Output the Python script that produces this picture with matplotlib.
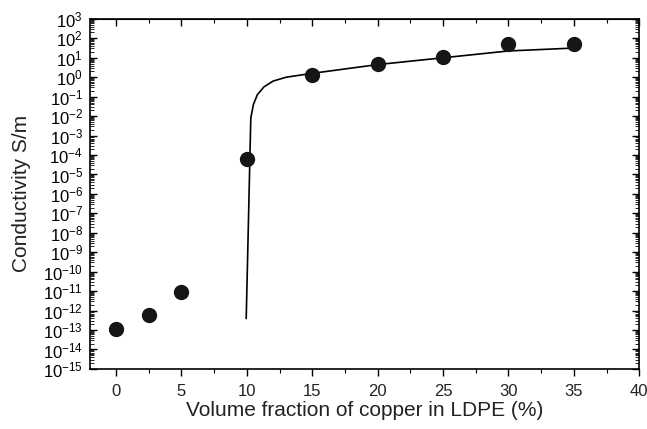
import matplotlib
matplotlib.use("Agg")
import matplotlib.pyplot as plt
import numpy as np
from matplotlib.ticker import FixedLocator, LogLocator, FuncFormatter, NullFormatter, MultipleLocator

plt.rcParams['font.family'] = ['Liberation Sans', 'DejaVu Sans']
plt.rcParams['mathtext.fontset'] = 'custom'
plt.rcParams['mathtext.rm'] = 'Liberation Sans'
plt.rcParams['mathtext.it'] = 'Liberation Sans'

# measured data points
vol_frac = [0, 2.5, 5, 10, 15, 20, 25, 30, 35]
conductivity = [1.1e-13, 6e-13, 9e-12, 6.6e-5, 1.35, 4.9, 11, 52, 52]

# fitted curve
fit_x = [9.95, 10.3, 10.5, 10.8, 11.3, 12.0, 13.0, 15.0, 20.0, 25.0, 30.0, 35.0]
fit_logy = [-12.4, -2.1, -1.4, -0.9, -0.5, -0.2, 0.0, 0.2, 0.65, 1.0, 1.35, 1.5]

x_ticks = [0, 5, 10, 15, 20, 25, 30, 35, 40]
y_exponents = list(range(-15, 4))

fig = plt.figure(figsize=(6.47, 4.29), dpi=100)
ax = fig.add_axes([0.139, 0.140, 0.849, 0.816])

ax.plot(fit_x, [10 ** v for v in fit_logy], color='black', lw=1.2)
ax.plot(vol_frac, conductivity, 'o', color='#151515', ms=10, mec='#151515')

ax.set_yscale('log')
ax.set_xlim(-2, 40)
ax.set_ylim(1e-15, 1e3)

ax.xaxis.set_major_locator(FixedLocator(x_ticks))
ax.xaxis.set_minor_locator(MultipleLocator(2.5))
ax.yaxis.set_major_locator(FixedLocator([10.0 ** e for e in y_exponents]))
ax.yaxis.set_minor_locator(LogLocator(base=10, subs=np.arange(2, 10), numticks=100))
ax.yaxis.set_minor_formatter(NullFormatter())

def yfmt(v, pos):
    e = int(round(np.log10(v)))
    return r'$\mathregular{10^{%d}}$' % e
ax.yaxis.set_major_formatter(FuncFormatter(yfmt))

ax.tick_params(axis='x', which='both', direction='out', labelsize=12, pad=6)
ax.tick_params(axis='x', which='major', length=5, width=1)
ax.tick_params(axis='x', which='minor', length=3, width=0.8)
ax.tick_params(axis='y', which='both', direction='in', right=True, labelsize=12, pad=5)
ax.tick_params(axis='y', which='major', length=5, width=1)
ax.tick_params(axis='y', which='minor', length=3, width=0.6)
for lbl in ax.get_xticklabels():
    lbl.set_color('#222222')

top = ax.secondary_xaxis('top')
top.xaxis.set_major_locator(FixedLocator(x_ticks))
top.xaxis.set_minor_locator(MultipleLocator(2.5))
top.tick_params(axis='x', which='both', direction='in', labeltop=False)
top.tick_params(axis='x', which='major', length=5, width=1)
top.tick_params(axis='x', which='minor', length=3, width=0.8)

for s in ax.spines.values():
    s.set_linewidth(1.2)

ax.set_xlabel('Volume fraction of copper in LDPE (%)', fontsize=15, color='#222222', va='center')
ax.xaxis.set_label_coords(0.5, -0.118)
ax.set_ylabel('Conductivity S/m', fontsize=15, color='#222222', va='center')
ax.yaxis.set_label_coords(-0.124, 0.5)

fig.savefig('out.png', dpi=100)
